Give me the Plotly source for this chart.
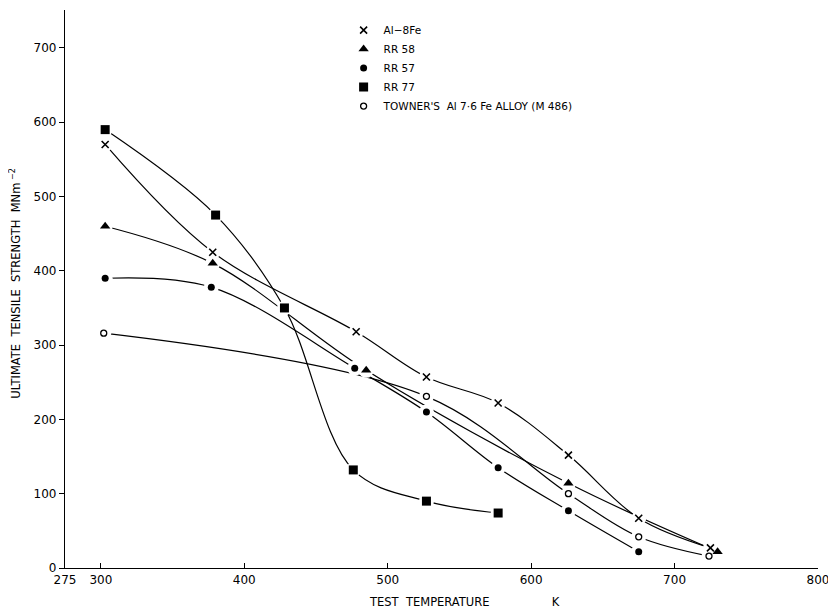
import plotly.graph_objects as go

# Data (temperature K, UTS MN m^-2)
al8fe_T = [303, 378, 478, 527, 577, 626, 675, 725]
al8fe_S = [570, 425, 318, 257, 222, 152, 67, 27]

rr58_T = [303, 378, 485, 626, 730]
rr58_S = [460, 410, 266, 114, 22]

rr57_T = [303, 377, 477, 527, 577, 626, 675]
rr57_S = [390, 378, 269, 210, 135, 77, 22]

rr77_T = [303, 380, 428, 476, 527, 577]
rr77_S = [590, 475, 350, 132, 90, 74]

towner_T = [302, 527, 626, 675, 724]
towner_S = [316, 231, 100, 42, 16]

series = [
    ("Al\u22128Fe", al8fe_T, al8fe_S, dict(symbol="x-thin", size=7, color="black", line=dict(width=1.6, color="black"))),
    ("RR 58", rr58_T, rr58_S, dict(symbol="triangle-up", size=9, color="black")),
    ("RR 57", rr57_T, rr57_S, dict(symbol="circle", size=7, color="black")),
    ("RR 77", rr77_T, rr77_S, dict(symbol="square", size=9, color="black")),
    ("TOWNER'S  Al 7\u00b76 Fe ALLOY (M 486)", towner_T, towner_S,
     dict(symbol="circle-open", size=6, color="black", line=dict(width=1.3, color="black"))),
]

x_ticks = [275, 300, 400, 500, 600, 700, 800]
y_ticks = [0, 100, 200, 300, 400, 500, 600, 700]

FONT = "DejaVu Sans"
fig = go.Figure()

# curves
for name, T, S, m in series:
    fig.add_trace(go.Scatter(x=T, y=S, mode="lines",
                             line=dict(color="black", width=1.2, shape="spline", smoothing=1.0),
                             showlegend=False, hoverinfo="skip"))
# white halos to create gaps at markers
for name, T, S, m in series:
    fig.add_trace(go.Scatter(x=T, y=S, mode="markers", marker=dict(symbol="circle", size=15, color="white"),
                             showlegend=False, hoverinfo="skip"))
# markers with legend
for name, T, S, m in series:
    fig.add_trace(go.Scatter(x=T, y=S, mode="markers", marker=m, name=name, showlegend=True))

# page body has an 8px margin, so the figure is sized to fit the 836x612 window
fig.update_layout(
    width=828, height=604,
    margin=dict(l=57, r=18, t=2, b=44, autoexpand=False),
    paper_bgcolor="white", plot_bgcolor="white",
    font=dict(family=FONT, size=11, color="black"),
    legend=dict(x=0.37, y=0.99, xanchor="left", yanchor="top", bgcolor="rgba(0,0,0,0)",
                font=dict(family=FONT, size=10.5), tracegroupgap=0),
    showlegend=True,
    annotations=[
        dict(text="TEST  TEMPERATURE                 K", x=0.531, y=-0.045, xref="paper", yref="paper",
             xanchor="center", yanchor="top", showarrow=False, font=dict(family=FONT, size=11.5)),
        dict(text="ULTIMATE  TENSILE  STRENGTH  MNm<sup> \u22122</sup>", x=-0.066, y=0.51,
             xref="paper", yref="paper", xanchor="center", yanchor="middle", textangle=-90,
             showarrow=False, font=dict(family=FONT, size=11.5)),
    ],
)
fig.update_xaxes(range=[275, 800], tickvals=x_ticks, ticktext=[str(v) for v in x_ticks],
                 showgrid=False, zeroline=False, showline=True, linecolor="black", linewidth=1.2,
                 ticks="inside", ticklen=5, tickcolor="black", automargin=False,
                 tickfont=dict(family=FONT, size=12))
fig.update_yaxes(range=[0, 751], tickvals=y_ticks, ticktext=[str(v) for v in y_ticks],
                 showgrid=False, zeroline=False, showline=True, linecolor="black", linewidth=1.2,
                 ticks="outside", ticklen=5, tickcolor="black", automargin=False,
                 tickfont=dict(family=FONT, size=12))

fig.write_html("out.html")
